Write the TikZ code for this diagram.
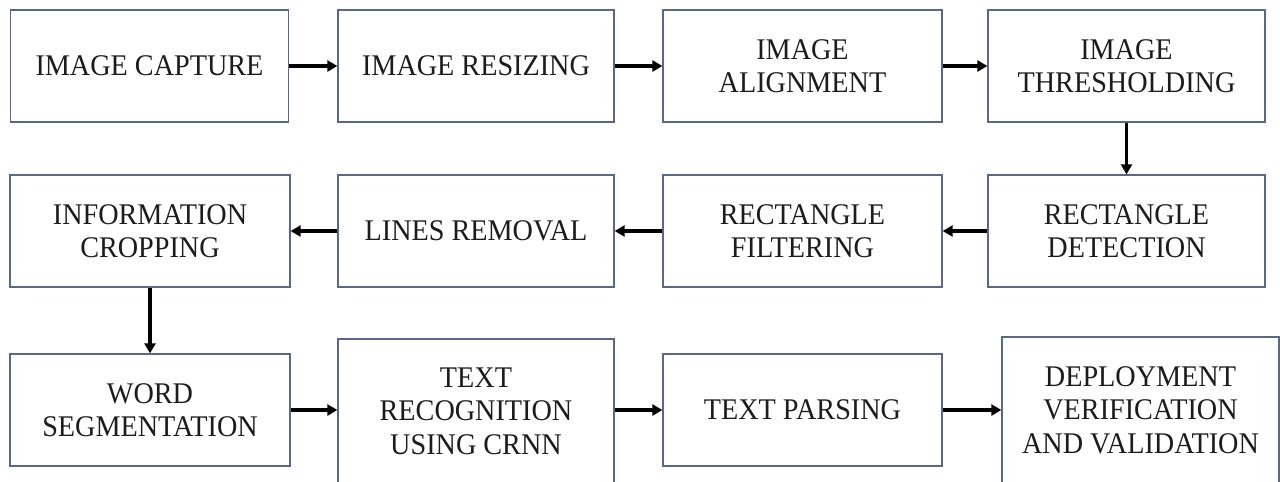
\documentclass[tikz,border=0pt]{standalone}
\usepackage{fontspec}
\setmainfont[FakeStretch=0.94]{Liberation Serif}
\usetikzlibrary{arrows.meta}
\definecolor{boxcol}{RGB}{88,104,140}
\definecolor{txtcol}{RGB}{28,28,28}
\begin{document}
\begin{tikzpicture}[x=1pt,y=-1pt,
  box/.style={draw=boxcol, line width=1.3pt, fill=white, align=center, inner sep=0pt,
    font=\fontsize{30}{33.5}\selectfont, text=txtcol, minimum width=278pt, minimum height=112pt},
  arr/.style={line width=3.4pt, -{Triangle[length=10pt,width=11pt]}}]
\path[use as bounding box, clip] (0,0) rectangle (1280,482);
\fill[white] (0,0) rectangle (1280,482);
% row 1
\node[box] (b1) at (149.5,66) {IMAGE CAPTURE};
\node[box, minimum width=276pt] (b2) at (476,66) {IMAGE RESIZING};
\node[box, minimum width=279pt] (b3) at (802.5,66) {IMAGE\\ALIGNMENT};
\node[box, minimum width=277pt] (b4) at (1126.5,66) {IMAGE\\THRESHOLDING};
% row 2
\node[box, minimum width=280pt] (b5) at (150,231) {INFORMATION\\CROPPING};
\node[box, minimum width=276pt] (b6) at (476,231) {LINES REMOVAL};
\node[box, minimum width=279pt] (b7) at (802.5,231) {RECTANGLE\\FILTERING};
\node[box, minimum width=277pt] (b8) at (1126.5,231) {RECTANGLE\\DETECTION};
% row 3
\node[box, minimum width=280pt] (b9) at (150,410) {WORD\\SEGMENTATION};
\node[box, minimum width=276pt, minimum height=144pt] (b10) at (476,411) {TEXT\\RECOGNITION\\USING CRNN};
\node[box, minimum width=279pt] (b11) at (802.5,410) {TEXT PARSING};
\node[box, minimum width=277pt, minimum height=146pt] (b12) at (1140.5,410) {DEPLOYMENT\\VERIFICATION\\AND VALIDATION};
% arrows
\draw[arr] (b1.east) -- (b2.west);
\draw[arr] (b2.east) -- (b3.west);
\draw[arr] (b3.east) -- (b4.west);
\draw[arr] (b4.south) -- (b8.north);
\draw[arr] (b8.west) -- (b7.east);
\draw[arr] (b7.west) -- (b6.east);
\draw[arr] (b6.west) -- (b5.east);
\draw[arr] (b5.south) -- (b9.north);
\draw[arr] (b9.east) -- (b9.east -| b10.west);
\draw[arr] (b10.east |- b11.west) -- (b11.west);
\draw[arr] (b11.east) -- (b12.west);
\end{tikzpicture}
\end{document}
